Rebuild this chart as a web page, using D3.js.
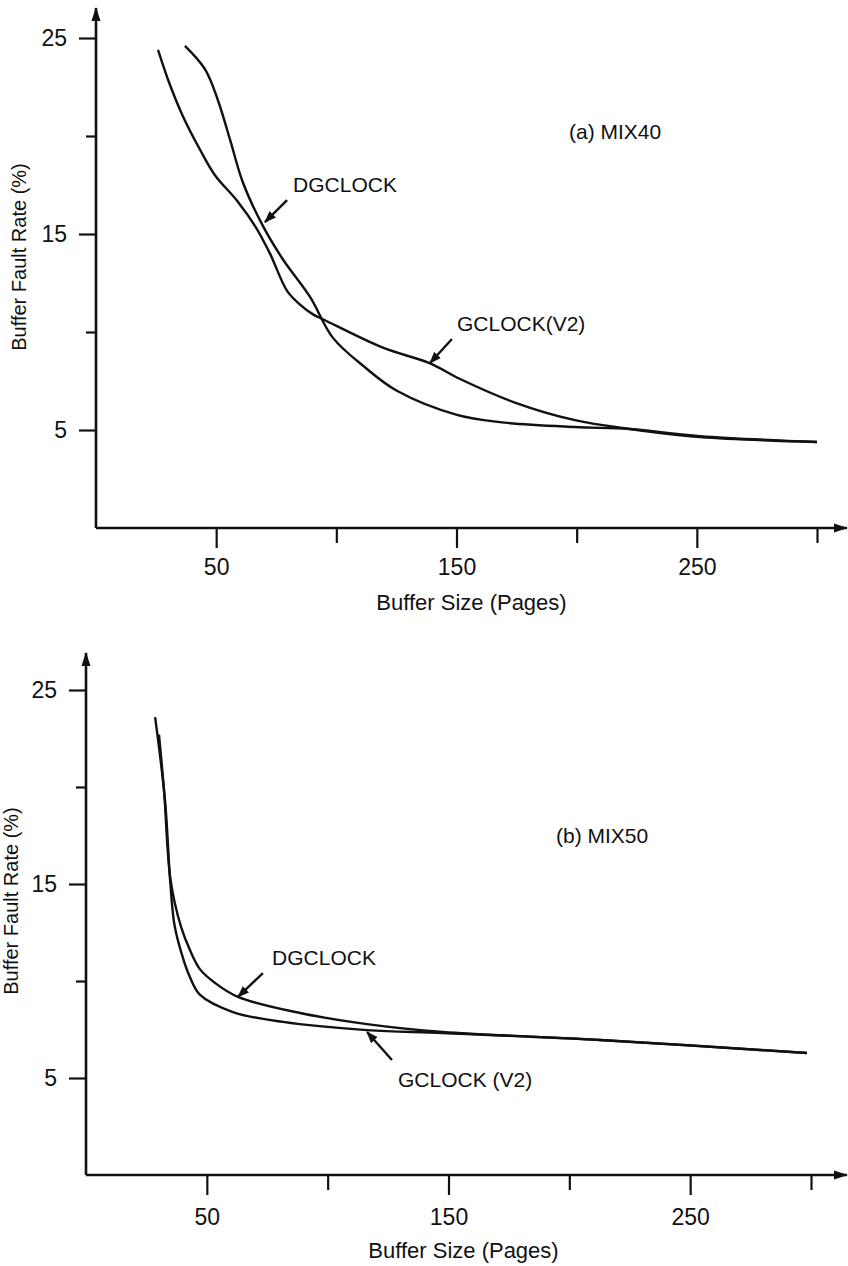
<!DOCTYPE html>
<html>
<head>
<meta charset="utf-8">
<script src="https://cdn.jsdelivr.net/npm/d3@7"></script>
<style>
  html, body { margin: 0; padding: 0; background: #fff; }
  svg { display: block; }
  text { font-family: "Liberation Sans", Arial, Helvetica, sans-serif; fill: #111; }
</style>
</head>
<body>
<svg id="chart" width="848" height="1266"></svg>
<script>
// Axis ticks (buffer size in pages, fault rate in percent)
const xMajorTicks = [50, 150, 250];
const xMinorTicks = [100, 200, 300];
const yMajorTicks = [5, 15, 25];
const yMinorTicks = [10, 20];

// (a) MIX40
const mix40Gclock = [
  [25.8, 24.4], [30.8, 22.6], [36.2, 21.0], [43.3, 19.3], [49.5, 18.0],
  [58.7, 16.7], [66.2, 15.4], [72.4, 14.0], [79.5, 12.1], [84.9, 11.4],
  [90.3, 10.9], [95.3, 10.6], [119.4, 9.2], [139.0, 8.4], [151.5, 7.6],
  [174.3, 6.4], [199.3, 5.5], [222.2, 5.05], [251.3, 4.64], [300, 4.39]
];
const mix40Dgclock = [
  [37.0, 24.6], [45.4, 23.4], [50.8, 21.8], [55.8, 19.8], [61.2, 17.6],
  [69.5, 15.4], [77.8, 13.7], [89.0, 11.8], [98.6, 9.7], [111.9, 8.2],
  [125.2, 7.0], [150.2, 5.77], [168.1, 5.4], [199.3, 5.15], [222.2, 5.05],
  [251.3, 4.69], [300, 4.39]
];

// (b) MIX50
const mix50Gclock = [
  [28.6, 23.6], [32.7, 19.3], [34.8, 15.2], [36.6, 12.9], [39.6, 11.4],
  [43.0, 10.2], [47.2, 9.28], [60.8, 8.4], [81.5, 7.89], [116.3, 7.47],
  [147.7, 7.32], [212.7, 6.96], [298.3, 6.29]
];
const mix50Dgclock = [
  [30.2, 22.7], [32.3, 19.8], [35.0, 15.2], [39.3, 12.8], [43.0, 11.6],
  [47.2, 10.6], [53.4, 9.9], [62.9, 9.18], [88.6, 8.35], [116.3, 7.78],
  [147.7, 7.37], [212.7, 6.96], [298.3, 6.29]
];

const panels = [
  {
    title: "(a) MIX40",
    titleAt: [196.8, 19.85],
    xRange: [96, 817], yRange: [528, 38],
    yAxisOvershoot: 30, xLabelPad: 11, xTitleY: 610,
    yTitleX: 19, yTitleY: 257,
    series: [mix40Gclock, mix40Dgclock],
    notes: [
      { text: "DGCLOCK", at: [82.0, 17.14], from: [79.5, 16.73], to: [70.3, 15.61] },
      { text: "GCLOCK(V2)", at: [150.2, 10.05], from: [148.1, 9.64], to: [139.0, 8.42] }
    ]
  },
  {
    title: "(b) MIX50",
    titleAt: [194.5, 17.1],
    xRange: [86, 811], yRange: [1175, 690],
    yAxisOvershoot: 37, xLabelPad: 14, xTitleY: 1258,
    yTitleX: 11, yTitleY: 901,
    series: [mix50Gclock, mix50Dgclock],
    notes: [
      { text: "DGCLOCK", at: [77.0, 10.82], from: [73.2, 10.41], to: [62.9, 9.18] },
      { text: "GCLOCK (V2)", at: [129.1, 4.54], from: [126.6, 5.93], to: [116.3, 7.37] }
    ]
  }
];

const xArrowTip = 847;

const svg = d3.select("#chart");
const defs = svg.append("defs");

// Filled arrowheads for the axes and for the callouts
defs.append("marker")
  .attr("id", "axisHead").attr("viewBox", "0 0 14 10")
  .attr("refX", 13).attr("refY", 5)
  .attr("markerWidth", 14).attr("markerHeight", 10)
  .attr("markerUnits", "userSpaceOnUse").attr("orient", "auto")
  .append("path").attr("d", "M0,0.5 L14,5 L0,9.5 Z").attr("fill", "#111");

defs.append("marker")
  .attr("id", "noteHead").attr("viewBox", "0 0 12 10")
  .attr("refX", 11).attr("refY", 5)
  .attr("markerWidth", 12).attr("markerHeight", 10)
  .attr("markerUnits", "userSpaceOnUse").attr("orient", "auto")
  .append("path").attr("d", "M0,0.5 L12,5 L0,9.5 Z").attr("fill", "#111");

const line = d3.line().curve(d3.curveCatmullRom.alpha(0.5));

panels.forEach(p => {
  const x = d3.scaleLinear().domain([0, 300]).range(p.xRange);
  const y = d3.scaleLinear().domain([0, 25]).range(p.yRange);
  const g = svg.append("g");
  const x0 = x(0), y0 = y(0);

  // Axis lines with arrowheads
  g.append("line")
    .attr("x1", x0).attr("y1", y0).attr("x2", x0).attr("y2", y(25) - p.yAxisOvershoot)
    .attr("stroke", "#111").attr("stroke-width", 2.6)
    .attr("marker-end", "url(#axisHead)");
  g.append("line")
    .attr("x1", x0).attr("y1", y0).attr("x2", xArrowTip).attr("y2", y0)
    .attr("stroke", "#111").attr("stroke-width", 2.6)
    .attr("marker-end", "url(#axisHead)");

  // Major and minor ticks
  const styleAxis = sel => {
    sel.select(".domain").remove();
    sel.selectAll(".tick line").attr("stroke", "#111").attr("stroke-width", 2.2);
    sel.selectAll(".tick text")
      .style("font-family", "'Liberation Sans', Arial, sans-serif")
      .style("font-size", "23px").attr("fill", "#111");
  };

  g.append("g").attr("transform", `translate(0,${y0})`)
    .call(d3.axisBottom(x).tickValues(xMajorTicks).tickSize(20).tickPadding(p.xLabelPad))
    .call(styleAxis);
  g.append("g").attr("transform", `translate(0,${y0})`)
    .call(d3.axisBottom(x).tickValues(xMinorTicks).tickSize(15).tickFormat(""))
    .call(styleAxis);
  g.append("g").attr("transform", `translate(${x0},0)`)
    .call(d3.axisLeft(y).tickValues(yMajorTicks).tickSize(17).tickPadding(12))
    .call(styleAxis);
  g.append("g").attr("transform", `translate(${x0},0)`)
    .call(d3.axisLeft(y).tickValues(yMinorTicks).tickSize(10).tickFormat(""))
    .call(styleAxis);

  // Axis titles
  g.append("text")
    .attr("x", (x(0) + x(300)) / 2 + 15).attr("y", p.xTitleY)
    .attr("text-anchor", "middle").style("font-size", "22px")
    .text("Buffer Size (Pages)");
  g.append("text")
    .attr("transform", `translate(${p.yTitleX},${p.yTitleY}) rotate(-90)`)
    .attr("text-anchor", "middle").attr("dominant-baseline", "central")
    .style("font-size", "20px")
    .text("Buffer Fault Rate (%)");

  // Curves
  p.series.forEach(s => {
    g.append("path")
      .attr("d", line(s.map(d => [x(d[0]), y(d[1])])))
      .attr("fill", "none").attr("stroke", "#111")
      .attr("stroke-width", 2.4).attr("stroke-linejoin", "round");
  });

  // Panel title
  g.append("text")
    .attr("x", x(p.titleAt[0])).attr("y", y(p.titleAt[1]))
    .style("font-size", "21px").text(p.title);

  // Callout labels with arrows
  p.notes.forEach(n => {
    g.append("text")
      .attr("x", x(n.at[0])).attr("y", y(n.at[1]))
      .style("font-size", "21px").text(n.text);
    g.append("line")
      .attr("x1", x(n.from[0])).attr("y1", y(n.from[1]))
      .attr("x2", x(n.to[0])).attr("y2", y(n.to[1]))
      .attr("stroke", "#111").attr("stroke-width", 2.4)
      .attr("marker-end", "url(#noteHead)");
  });
});
</script>
</body>
</html>
